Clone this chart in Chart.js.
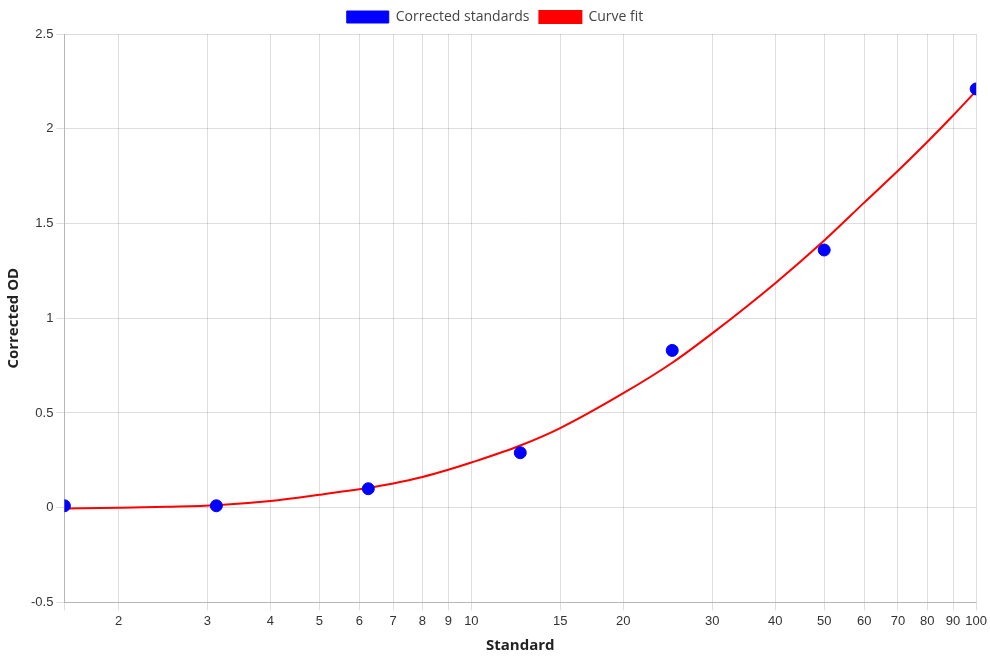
<!DOCTYPE html>
<html>
<head>
<meta charset="utf-8">
<script src="https://cdn.jsdelivr.net/npm/chart.js@4.4.1/dist/chart.umd.min.js"></script>
<style>
  html, body { margin: 0; padding: 0; background: #fff; }
  #wrap { width: 990px; height: 660px; }
</style>
</head>
<body>
<div id="wrap"><canvas id="chart-standards"></canvas></div>
<script>
// measured standards
var standardX = [1.5625, 3.125, 6.25, 12.5, 25, 50, 100];
var correctedOD = [0.01, 0.01, 0.10, 0.29, 0.83, 1.36, 2.21];

// fitted curve
var fitX = [1.5625, 2, 2.5, 3.125, 4, 5, 6.25, 7, 8, 9, 10, 12.5, 15, 20, 25, 30, 40, 50, 60, 70, 80, 90, 100];
var fitY = [-0.004, 0.0, 0.005, 0.013, 0.035, 0.068, 0.105, 0.128, 0.162, 0.2, 0.238, 0.328, 0.42, 0.604, 0.765, 0.92, 1.185, 1.41, 1.61, 1.778, 1.93, 2.07, 2.2];

var xTickLabels = [2, 3, 4, 5, 6, 7, 8, 9, 10, 15, 20, 30, 40, 50, 60, 70, 80, 90, 100];

var tickFont = { family: 'Liberation Sans', size: 13 };
var titleFont = { family: 'Open Sans', size: 15, weight: 'bold' };
var gridColor = 'rgba(0,0,0,0.13)';

var dataStandards = standardX.map(function (x, i) { return { x: x, y: correctedOD[i] }; });
var dataFit = fitX.map(function (x, i) { return { x: x, y: fitY[i] }; });

var ctx = document.getElementById('chart-standards').getContext('2d');
var chart = new Chart(ctx, {
    type: 'scatter',
    data: {
        datasets: [
            {
                label: 'Corrected standards',
                data: dataStandards,
                backgroundColor: 'blue',
                borderColor: 'blue',
                pointRadius: 6,
                pointHoverRadius: 7
            },
            {
                label: 'Curve fit',
                data: dataFit,
                showLine: true,
                backgroundColor: 'red',
                borderColor: 'red',
                borderWidth: 2,
                pointRadius: 0,
                cubicInterpolationMode: 'monotone'
            }
        ]
    },
    options: {
        responsive: true,
        maintainAspectRatio: false,
        animation: false,
        plugins: {
            legend: {
                labels: {
                    font: { family: 'Open Sans', size: 14 },
                    color: '#444',
                    boxWidth: 42,
                    boxHeight: 12
                }
            },
            tooltip: { enabled: false }
        },
        scales: {
            x: {
                type: 'logarithmic',
                min: 1.5625,
                max: 100,
                grid: { color: gridColor },
                border: { color: 'rgba(0,0,0,0.18)' },
                title: { display: true, text: 'Standard', font: titleFont, color: '#222', padding: { top: 5, bottom: 5 } },
                afterBuildTicks: function (axis) {
                    axis.ticks = [{ value: 1.5625 }].concat(xTickLabels.map(function (v) { return { value: v }; }));
                },
                ticks: {
                    font: tickFont,
                    color: '#333',
                    autoSkip: false,
                    maxRotation: 0,
                    callback: function (v) {
                        return xTickLabels.indexOf(v) >= 0 ? String(v) : '';
                    }
                }
            },
            y: {
                min: -0.5,
                max: 2.5,
                grid: { color: gridColor },
                border: { color: 'rgba(0,0,0,0.18)' },
                title: { display: true, text: 'Corrected OD', font: titleFont, color: '#222', padding: { top: 5, bottom: 5 } },
                ticks: {
                    font: tickFont,
                    color: '#333',
                    stepSize: 0.5,
                    callback: function (v) { return String(Math.round(v * 10) / 10); }
                }
            }
        }
    }
});
</script>
</body>
</html>
